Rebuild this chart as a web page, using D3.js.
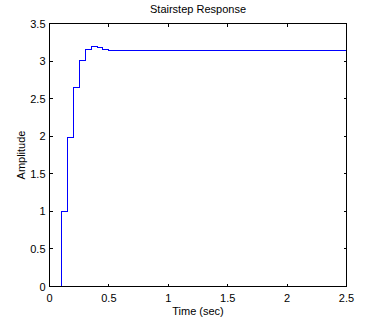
<!DOCTYPE html>
<html>
<head>
<meta charset="utf-8">
<script src="https://cdn.jsdelivr.net/npm/d3@7"></script>
<style>
  body { margin: 0; background: #fff; }
  text { font-family: "Liberation Sans", Arial, sans-serif; font-size: 11px; fill: #000; }
</style>
</head>
<body>
<script>
// sampled step response (sample time 0.05 s), held to the end
var times = [0, 0.05, 0.1, 0.15, 0.2, 0.25, 0.3, 0.35, 0.4, 0.45, 0.5, 0.55, 2.5];
var amps = [0, 0, 1, 1.98, 2.645, 3.01, 3.15, 3.19, 3.18, 3.16, 3.145, 3.135, 3.135];
var xTicks = [0, 0.5, 1, 1.5, 2, 2.5];
var yTicks = [0, 0.5, 1, 1.5, 2, 2.5, 3, 3.5];

var data = times.map(function(t, i) { return [t, amps[i]]; });

var W = 384, H = 325;
// plot box edges
var box = {left: 49.5, right: 346.5, top: 23.5, bottom: 286.5};

var x = d3.scaleLinear().domain([0, 2.5]).range([box.left, box.right]);
var y = d3.scaleLinear().domain([0, 3.5]).range([box.bottom, box.top]);

var svg = d3.select('body').append('svg')
    .attr('width', W)
    .attr('height', H);

// step line
var line = d3.line()
    .x(function(d) { return x(d[0]); })
    .y(function(d) { return y(d[1]); })
    .curve(d3.curveStepAfter);

svg.append('path')
    .datum(data)
    .attr('d', line)
    .attr('fill', 'none')
    .attr('stroke', '#0000ff')
    .attr('stroke-width', 1)
    .attr('shape-rendering', 'crispEdges');

// axes box
svg.append('rect')
    .attr('x', box.left).attr('y', box.top)
    .attr('width', box.right - box.left).attr('height', box.bottom - box.top)
    .attr('fill', 'none')
    .attr('stroke', '#000')
    .attr('shape-rendering', 'crispEdges');

// inward ticks on all four sides
var tickLen = 3;
var g = svg.append('g').attr('stroke', '#000').attr('shape-rendering', 'crispEdges');
xTicks.forEach(function(t) {
  var px = Math.round(x(t) - 0.5) + 0.5;
  g.append('line').attr('x1', px).attr('x2', px).attr('y1', box.bottom).attr('y2', box.bottom - tickLen);
  g.append('line').attr('x1', px).attr('x2', px).attr('y1', box.top).attr('y2', box.top + tickLen);
});
yTicks.forEach(function(t) {
  var py = Math.round(y(t) - 0.5) + 0.5;
  g.append('line').attr('y1', py).attr('y2', py).attr('x1', box.left).attr('x2', box.left + tickLen);
  g.append('line').attr('y1', py).attr('y2', py).attr('x1', box.right).attr('x2', box.right - tickLen);
});

// tick labels
svg.selectAll('.xl')
    .data(xTicks)
    .enter().append('text')
    .attr('x', function(d) { return x(d); })
    .attr('y', box.bottom + 15)
    .style('text-anchor', 'middle')
    .text(function(d) { return d; });

svg.selectAll('.yl')
    .data(yTicks)
    .enter().append('text')
    .attr('x', box.left - 4)
    .attr('y', function(d) { return y(d) + 4; })
    .style('text-anchor', 'end')
    .text(function(d) { return d; });

// labels
svg.append('text')
    .attr('x', (box.left + box.right) / 2)
    .attr('y', 315)
    .style('text-anchor', 'middle')
    .text('Time (sec)');

svg.append('text')
    .attr('transform', 'translate(25,' + ((box.top + box.bottom) / 2) + ') rotate(-90)')
    .style('text-anchor', 'middle')
    .text('Amplitude');

svg.append('text')
    .attr('x', (box.left + box.right) / 2)
    .attr('y', 13)
    .style('text-anchor', 'middle')
    .text('Stairstep Response');
</script>
</body>
</html>
